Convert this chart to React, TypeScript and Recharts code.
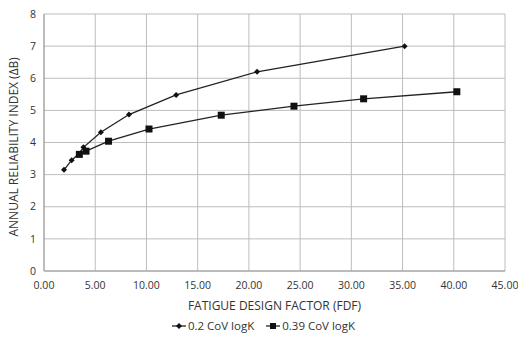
import { ScatterChart, Scatter, XAxis, YAxis, ZAxis, CartesianGrid, Legend } from 'recharts'

// FDF (x) vs annual reliability index (y)
const cov02Fdf = [1.95, 2.7, 3.4, 3.85, 5.55, 8.3, 12.9, 20.8, 35.2]
const cov02Beta = [3.15, 3.45, 3.65, 3.85, 4.32, 4.87, 5.48, 6.2, 7.0]
const cov039Fdf = [3.45, 4.1, 6.3, 10.25, 17.3, 24.4, 31.2, 40.3]
const cov039Beta = [3.63, 3.73, 4.04, 4.42, 4.85, 5.13, 5.36, 5.58]
const xTicks = [0, 5, 10, 15, 20, 25, 30, 35, 40, 45]
const yTicks = [0, 1, 2, 3, 4, 5, 6, 7, 8]

const series02 = cov02Fdf.map((x, i) => ({ x, y: cov02Beta[i] }))
const series039 = cov039Fdf.map((x, i) => ({ x, y: cov039Beta[i] }))

const font = '"Open Sans", "Noto Sans", sans-serif'
const textColor = '#333'

function Diamond({ cx, cy }: { cx?: number; cy?: number }) {
  if (cx == null || cy == null) return null
  const r = 3
  return <path d={`M${cx},${cy - r}L${cx + r},${cy}L${cx},${cy + r}L${cx - r},${cy}Z`} fill="#111" />
}

function Square({ cx, cy }: { cx?: number; cy?: number }) {
  if (cx == null || cy == null) return null
  return <rect x={cx - 3.5} y={cy - 3.5} width={7} height={7} fill="#111" />
}

function CustomLegend() {
  const item = (label: string, square: boolean) => (
    <span style={{ display: 'flex', alignItems: 'center', gap: 2 }}>
      <svg width={14} height={8}>
        <line x1={0} y1={4} x2={14} y2={4} stroke="#111" strokeWidth={1.2} />
        {square
          ? <rect x={4} y={1} width={6} height={6} fill="#111" />
          : <path d="M7,1L10,4L7,7L4,4Z" fill="#111" />}
      </svg>
      {label}
    </span>
  )
  return (
    <div style={{
      display: 'flex', justifyContent: 'center', gap: 12, paddingTop: 3,
      fontSize: 11.5, fontFamily: font, color: textColor, paddingLeft: 22,
    }}>
      {item('0.2 CoV logK', false)}
      {item('0.39 CoV logK', true)}
    </div>
  )
}

export default function App() {
  return (
    <div style={{ position: 'absolute', left: 0, top: 0, background: '#fff' }}>
      <ScatterChart width={518} height={338} margin={{ top: 14, right: 13, bottom: 1, left: 0 }}>
        <CartesianGrid stroke="#bdbdbd" strokeWidth={1} />
        <XAxis
          type="number"
          dataKey="x"
          domain={[0, 45]}
          ticks={xTicks}
          tickFormatter={v => v.toFixed(2)}
          tick={{ fontSize: 10.5, fill: textColor, fontFamily: font, dy: 3 }}
          axisLine={{ stroke: '#999' }}
          tickLine={false}
          height={44}
          label={{ value: 'FATIGUE DESIGN FACTOR (FDF)', position: 'insideBottom', offset: 5, fontSize: 12, fill: textColor, fontFamily: font }}
        />
        <YAxis
          type="number"
          dataKey="y"
          domain={[0, 8]}
          ticks={yTicks}
          tick={{ fontSize: 10.5, fill: textColor, fontFamily: font }}
          axisLine={{ stroke: '#999' }}
          tickLine={false}
          width={44}
          label={{ value: 'ANNUAL RELIABILITY INDEX (ΔB)', angle: -90, position: 'insideLeft', offset: 14, dy: 94, fontSize: 12, fill: textColor, fontFamily: font }}
        />
        <ZAxis range={[30, 30]} />
        <Legend content={<CustomLegend />} verticalAlign="bottom" height={22} />
        <Scatter name="0.2 CoV logK" data={series02} line={{ stroke: '#222', strokeWidth: 1.3 }} lineType="joint" shape={<Diamond />} isAnimationActive={false} />
        <Scatter name="0.39 CoV logK" data={series039} line={{ stroke: '#222', strokeWidth: 1.3 }} lineType="joint" shape={<Square />} isAnimationActive={false} />
      </ScatterChart>
    </div>
  )
}
